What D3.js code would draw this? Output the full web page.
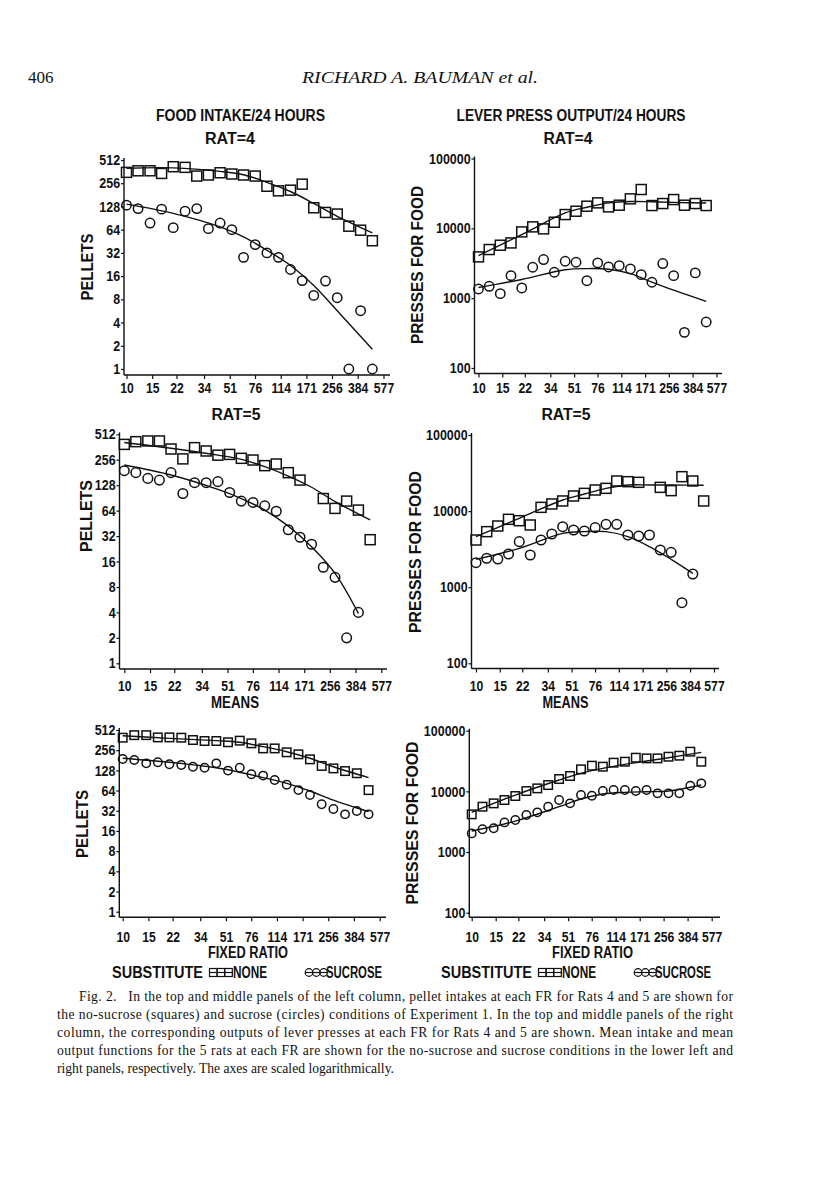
<!DOCTYPE html>
<html><head><meta charset="utf-8">
<script src="https://cdn.jsdelivr.net/npm/d3@7"></script>
<style>body{margin:0;background:#fff} svg{display:block} text{white-space:pre}</style>
</head><body>
<svg id="page" width="816" height="1202"></svg>
<script>
// ---------- data ----------
const FR = [10, 12, 14.5, 17.4, 20.9, 25.2, 30.3, 36.4, 43.8, 52.7, 63.4, 76.2, 91.7, 110, 133, 160, 192, 231, 278, 334, 402, 484];
const frTickLabels = [10, 15, 22, 34, 51, 76, 114, 171, 256, 384, 577];
const pelletTicks = [1, 2, 4, 8, 16, 32, 64, 128, 256, 512];
const pressTicks = [100, 1000, 10000, 100000];
const fitIdx = [0, 4, 8, 10, 12, 14, 16, 18, 21];
const fitIdxShort = [0, 4, 8, 10, 12, 14, 16, 18, 20];

const rat4PelletsNone = [354, 371, 371, 343, 419, 411, 317, 327, 350, 337, 327, 317, 234, 204, 208, 249, 123, 107, 102, 71, 63, 46];
const rat4PelletsSucrose = [133, 120, 78, 118, 68, 111, 120, 66, 78, 64, 28, 41, 32, 28, 19.5, 14, 9, 13.8, 8.4, 1, 5.7, 1];
const rat4PelletsNoneFit = [400, 405, 365, 330, 262, 200, 140, 95, 58];
const rat4PelletsSucroseFit = [137, 104, 69.5, 51.5, 34.6, 22, 12.1, 5.7, 1.8];

const rat4PressNone = [3900, 4970, 5730, 6180, 8890, 10490, 9820, 12230, 15750, 17580, 20740, 23160, 20280, 21430, 26430, 35970, 21200, 22640, 25830, 21430, 22640, 21200];
const rat4PressSucrose = [1355, 1480, 1160, 2100, 1400, 2770, 3570, 2350, 3380, 3270, 1780, 3200, 2800, 2920, 2620, 2170, 1690, 3130, 2100, 324, 2300, 456];
const rat4PressNoneFit = [4070, 8140, 16640, 20050, 23160, 24200, 24000, 23500, 23000];
const rat4PressSucroseFit = [1420, 1850, 2550, 2650, 2600, 2250, 1700, 1300, 900];

const rat5PelletsNone = [389, 419, 427, 427, 343, 262, 356, 325, 290, 296, 266, 254, 218, 228, 180, 147, null, 89, 68, 83, 65, 29];
const rat5PelletsSucrose = [190, 180, 154, 147, 180, 102, 137, 137, 141, 105, 83, 80, 73, 63, 38, 31, 25.6, 13.7, 10.4, 2.0, 4.0, null];
const rat5PelletsNoneFit = [410, 350, 290, 259, 212, 164, 121, 82, 49.6];
const rat5PelletsSucroseFit = [222, 169, 114, 89, 65, 42, 24, 11.6, 3.9];

const rat5PressNone = [4170, 5370, 6370, 7800, 7480, 6570, 11200, 12400, 13590, 15800, 17100, 18930, 19910, 24870, 24360, 23880, null, 20520, 18570, 28340, 24870, 13590];
const rat5PressSucrose = [2100, 2400, 2350, 2730, 3970, 2650, 4170, 5000, 6240, 5650, 5480, 6060, 6700, 6700, 4850, 4710, 4850, 3080, 2870, 626, 1490, null];
const rat5PressNoneFit = [4610, 8040, 14000, 16790, 19910, 22030, 22030, 22000, 21820];
const rat5PressSucroseFit = [2323, 3240, 5100, 5370, 5370, 4610, 3410, 2323, 1520];

const meanPelletsNone = [393, 429, 429, 397, 397, 393, 363, 351, 351, 336, 355, 324, 272, 272, 238, 222, 187, 149, 137, 125, 116, 65];
const meanPelletsSucrose = [189, 183, 163, 169, 158, 154, 145, 140, 163, 127, 140, 112, 107, 92, 78, 65, 55, 40, 34, 28.3, 31.8, 28.3];
const meanPelletsNoneFit = [421, 384, 355, 336, 289, 243, 194, 145, 100];
const meanPelletsSucroseFit = [194, 169, 140, 120, 100, 82, 63, 46, 31];

const meanPressNone = [4180, 5590, 6340, 7200, 8380, 10120, 11200, 12710, 15970, 17910, 23060, 26500, 25520, 29700, 30830, 35890, 34990, 34990, 37260, 38740, 45090, 30830];
const meanPressSucrose = [2030, 2370, 2460, 3080, 3370, 4070, 4510, 5590, 7200, 6340, 8700, 8490, 10120, 10520, 10520, 10120, 10520, 9270, 9270, 9270, 12400, 13550];
const meanPressNoneFit = [4510, 8700, 15380, 19820, 23950, 27860, 31620, 35890, 43940];
const meanPressSucroseFit = [2220, 3240, 5590, 7480, 9040, 9640, 9880, 10120, 12710];

const captionLines = [
  "Fig. 2.   In the top and middle panels of the left column, pellet intakes at each FR for Rats 4 and 5 are shown for",
  "the no-sucrose (squares) and sucrose (circles) conditions of Experiment 1. In the top and middle panels of the right",
  "column, the corresponding outputs of lever presses at each FR for Rats 4 and 5 are shown. Mean intake and mean",
  "output functions for the 5 rats at each FR are shown for the no-sucrose and sucrose conditions in the lower left and",
  "right panels, respectively. The axes are scaled logarithmically."
];

// ---------- drawing ----------
const SANS = "'Liberation Sans', Arial, sans-serif";
const SERIF = "'Liberation Serif', 'Times New Roman', serif";
const INK = "#111";
const svg = d3.select("#page");
svg.append("rect").attr("width", 816).attr("height", 1202).attr("fill", "#fff");

function label(x, y, s, o = {}) {
  const t = svg.append("text")
    .attr("font-family", o.family || SANS)
    .attr("font-size", o.size || 16)
    .attr("font-weight", o.weight || "bold")
    .attr("font-style", o.style || "normal")
    .attr("text-anchor", o.anchor || "middle")
    .attr("fill", INK)
    .text(s);
  if (o.rotate) t.attr("transform", `translate(${x},${y}) rotate(-90)`);
  else t.attr("x", x).attr("y", y);
  if (o.len) t.attr("textLength", o.len).attr("lengthAdjust", "spacingAndGlyphs");
  return t;
}

function drawPanel(p) {
  const x = d3.scaleLog().domain([10, 577]).range([p.x10, p.x10 + 10 * p.step]);
  const y = d3.scaleLog().domain(p.domain).range([p.yBot, p.yTop]);
  const g = svg.append("g");

  g.append("line").attr("x1", p.axisX).attr("x2", p.axisX)
    .attr("y1", p.xAxisY).attr("y2", p.yTop - 2).attr("stroke", INK).attr("stroke-width", 1.4);
  g.append("line").attr("x1", p.axisX).attr("x2", p.xEnd)
    .attr("y1", p.xAxisY).attr("y2", p.xAxisY).attr("stroke", INK).attr("stroke-width", 1.4);

  const ya = g.append("g").attr("transform", `translate(${p.axisX},0)`).attr("color", INK)
    .call(d3.axisLeft(y).tickValues(p.ticks).tickFormat(d3.format("d")).tickSize(3).tickPadding(1.5));
  ya.select(".domain").remove();
  ya.selectAll("line").attr("stroke-width", 1.2);
  ya.selectAll("text").attr("font-family", SANS).attr("font-size", p.fs).attr("font-weight", "bold")
    .attr("fill", INK).attr("transform", "scale(0.86,1)");

  const xa = g.append("g").attr("transform", `translate(0,${p.xAxisY})`).attr("color", INK)
    .call(d3.axisBottom(x).tickValues(frTickLabels).tickFormat(d => d).tickSize(4));
  xa.select(".domain").remove();
  xa.selectAll("line").attr("stroke-width", 1.2);
  xa.selectAll("text").attr("font-family", SANS).attr("font-size", p.fs).attr("font-weight", "bold")
    .attr("fill", INK).attr("dy", null).attr("y", p.xlabY - p.xAxisY).attr("transform", `scale(${p.xsx},1)`);

  const line = d3.line().x(d => x(FR[d[0]])).y(d => y(d[1])).curve(d3.curveCatmullRom.alpha(0.5));
  [[p.noneFitIdx, p.noneFit], [p.sucFitIdx, p.sucFit]].forEach(([idx, vals]) => {
    g.append("path").datum(idx.map((i, k) => [i, vals[k]])).attr("d", line)
      .attr("fill", "none").attr("stroke", INK).attr("stroke-width", 1.4);
  });

  const sq = p.none.map((v, i) => ({ i, v })).filter(d => d.v != null);
  g.selectAll(null).data(sq).join("rect")
    .attr("x", d => x(FR[d.i]) - p.sq / 2).attr("y", d => y(d.v) - p.sq / 2)
    .attr("width", p.sq).attr("height", p.sq)
    .attr("fill", "none").attr("stroke", INK).attr("stroke-width", 1.5);
  const ci = p.suc.map((v, i) => ({ i, v })).filter(d => d.v != null);
  g.selectAll(null).data(ci).join("circle")
    .attr("cx", d => x(FR[d.i])).attr("cy", d => y(d.v)).attr("r", p.r)
    .attr("fill", "none").attr("stroke", INK).attr("stroke-width", 1.5);

  label(p.ylx, p.yly, p.ylabel, { rotate: true, size: 16, len: p.yllen });
}

const panels = [
  { axisX: 124, x10: 126.5, step: 25.7, yTop: 160, yBot: 369, xAxisY: 375, xEnd: 390, xlabY: 393, fs: 14.5, xsx: 0.84,
    domain: [1, 512], ticks: pelletTicks, none: rat4PelletsNone, suc: rat4PelletsSucrose,
    noneFit: rat4PelletsNoneFit, noneFitIdx: fitIdx, sucFit: rat4PelletsSucroseFit, sucFitIdx: fitIdx,
    sq: 10, r: 4.7, ylabel: "PELLETS", ylx: 93, yly: 267, yllen: 67 },
  { axisX: 474.5, x10: 478.5, step: 23.8, yTop: 158.5, yBot: 368, xAxisY: 373.5, xEnd: 722, xlabY: 393, fs: 14.5, xsx: 0.84,
    domain: [100, 100000], ticks: pressTicks, none: rat4PressNone, suc: rat4PressSucrose,
    noneFit: rat4PressNoneFit, noneFitIdx: fitIdx, sucFit: rat4PressSucroseFit, sucFitIdx: fitIdx,
    sq: 10, r: 4.7, ylabel: "PRESSES FOR FOOD", ylx: 423, yly: 265, yllen: 158 },
  { axisX: 119.5, x10: 124.3, step: 25.7, yTop: 434.3, yBot: 663.3, xAxisY: 669, xEnd: 387, xlabY: 691, fs: 14.5, xsx: 0.84,
    domain: [1, 512], ticks: pelletTicks, none: rat5PelletsNone, suc: rat5PelletsSucrose,
    noneFit: rat5PelletsNoneFit, noneFitIdx: fitIdx, sucFit: rat5PelletsSucroseFit, sucFitIdx: fitIdxShort,
    sq: 10, r: 4.8, ylabel: "PELLETS", ylx: 92, yly: 516, yllen: 72 },
  { axisX: 471.5, x10: 476, step: 23.8, yTop: 435, yBot: 663.3, xAxisY: 668.5, xEnd: 719, xlabY: 691, fs: 14.5, xsx: 0.84,
    domain: [100, 100000], ticks: pressTicks, none: rat5PressNone, suc: rat5PressSucrose,
    noneFit: rat5PressNoneFit, noneFitIdx: fitIdx, sucFit: rat5PressSucroseFit, sucFitIdx: fitIdxShort,
    sq: 10, r: 4.8, ylabel: "PRESSES FOR FOOD", ylx: 421, yly: 552, yllen: 162 },
  { axisX: 119.3, x10: 122.7, step: 25.7, yTop: 730, yBot: 911.7, xAxisY: 917.3, xEnd: 386, xlabY: 942, fs: 14.5, xsx: 0.84,
    domain: [1, 512], ticks: pelletTicks, none: meanPelletsNone, suc: meanPelletsSucrose,
    noneFit: meanPelletsNoneFit, noneFitIdx: fitIdx, sucFit: meanPelletsSucroseFit, sucFitIdx: fitIdx,
    sq: 8.5, r: 4.2, ylabel: "PELLETS", ylx: 88, yly: 824, yllen: 68 },
  { axisX: 469.3, x10: 471.7, step: 24.0, yTop: 730.7, yBot: 912.7, xAxisY: 917.3, xEnd: 720, xlabY: 942, fs: 14.5, xsx: 0.84,
    domain: [100, 100000], ticks: pressTicks, none: meanPressNone, suc: meanPressSucrose,
    noneFit: meanPressNoneFit, noneFitIdx: fitIdx, sucFit: meanPressSucroseFit, sucFitIdx: fitIdx,
    sq: 8.5, r: 4.2, ylabel: "PRESSES FOR FOOD", ylx: 418, yly: 823, yllen: 163 }
];
panels.forEach(drawPanel);

// page header
label(28, 83, "406", { family: SERIF, size: 17, weight: "normal", anchor: "start" });
label(420, 83, "RICHARD A. BAUMAN et al.", { family: SERIF, size: 17, weight: "normal", style: "italic", len: 236 });

// titles
label(240.5, 121, "FOOD INTAKE/24 HOURS", { size: 16, len: 169 });
label(230, 144, "RAT=4", { size: 16, len: 50 });
label(571, 121, "LEVER PRESS OUTPUT/24 HOURS", { size: 16, len: 229 });
label(568, 144, "RAT=4", { size: 16, len: 49 });
label(236, 420, "RAT=5", { size: 16, len: 49 });
label(566, 420, "RAT=5", { size: 16, len: 49 });
label(235, 708, "MEANS", { size: 16, len: 48 });
label(565.5, 708, "MEANS", { size: 16, len: 46 });
label(248, 958, "FIXED RATIO", { size: 16, len: 80 });
label(592.5, 958, "FIXED RATIO", { size: 16, len: 81 });

// legends
function legend(dx) {
  label(112 + dx, 978, "SUBSTITUTE", { size: 16, anchor: "start", len: 91 });
  const cy = 972.5;
  const g = svg.append("g");
  g.append("line").attr("x1", 209 + dx).attr("x2", 233 + dx).attr("y1", cy).attr("y2", cy).attr("stroke", INK).attr("stroke-width", 1.2);
  [0, 1, 2].forEach(k => g.append("rect").attr("x", 209.5 + dx + k * 7.6).attr("y", cy - 4).attr("width", 7.6).attr("height", 8)
    .attr("fill", "none").attr("stroke", INK).attr("stroke-width", 1.2));
  label(233 + dx, 978, "NONE", { size: 16, anchor: "start", len: 34 });
  g.append("line").attr("x1", 305 + dx).attr("x2", 327 + dx).attr("y1", cy).attr("y2", cy).attr("stroke", INK).attr("stroke-width", 1.2);
  [0, 1, 2].forEach(k => g.append("circle").attr("cx", 309 + dx + k * 7.3).attr("cy", cy).attr("r", 3.8)
    .attr("fill", "none").attr("stroke", INK).attr("stroke-width", 1.2));
  label(326 + dx, 978, "SUCROSE", { size: 16, anchor: "start", len: 56 });
}
legend(0);
legend(329);

// caption
const capY = [1001, 1019, 1037, 1055, 1073];
captionLines.forEach((s, i) => {
  const x0 = i === 0 ? 79 : 57;
  const t = label(x0, capY[i], s, { family: SERIF, size: 13.6, weight: "normal", anchor: "start" });
  if (i < 4) t.attr("textLength", 733 - x0).attr("lengthAdjust", "spacing");
});
</script>
</body></html>
